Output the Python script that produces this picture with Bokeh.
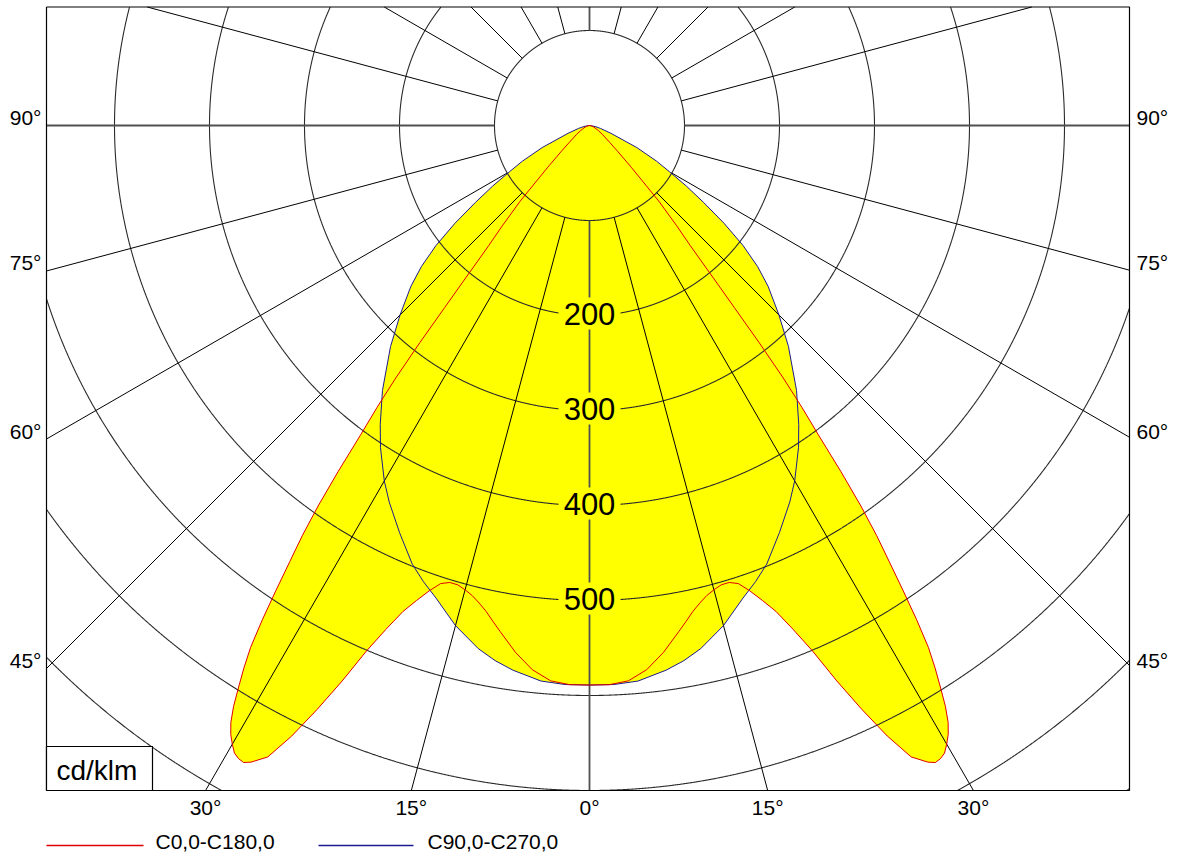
import numpy as np
from bokeh.plotting import figure
from bokeh.models import Range1d
from bokeh.embed import file_html
from bokeh.resources import INLINE
from bokeh.core.properties import value

# ---------------- data (cd/klm) ----------------
gamma_c0 = [0, 2, 4, 6, 8, 10, 11, 12, 13, 14, 15, 16, 17, 18, 19, 20, 21, 22, 23, 24,
            25, 26, 27, 28, 28.5, 29, 29.5, 30, 30.5, 31, 31.5, 32, 32.5, 33, 33.5, 34,
            34.5, 35, 35.5, 36, 36.5, 37, 37.5, 38, 38.5, 39, 39.5, 40, 41, 42.5, 45,
            47.5, 50, 55, 60, 70, 80, 90]
c0_c180 = [589, 589, 586, 576, 560, 541, 532, 523, 516, 510, 506, 503, 503, 507, 518, 532,
           548, 572, 601, 640, 678, 715, 746, 759, 763, 762, 759, 752, 744, 733, 717, 697,
           677, 655, 624, 590, 557, 527, 492, 450, 405, 372, 335, 290, 245, 212, 185, 165,
           140, 108, 62, 40, 28, 17, 11, 5, 2, 0]

gamma_c90 = [0, 2.5, 5, 8, 10, 12, 15, 18, 20, 22, 25, 28, 30, 33, 35, 38, 42, 45, 48, 50,
             52, 54, 56, 58, 60, 62, 65, 70, 75, 80, 90]
c90_c270 = [589, 589, 587, 579, 572, 563, 545, 523, 511, 498, 473, 449, 432, 404, 384, 354,
            313, 282, 253, 231, 205, 175, 145, 120, 97, 80, 55, 24, 12, 6, 0]

ring_values = [100, 200, 300, 400, 500, 600, 700, 800, 900, 1000]
ring_label_values = [200, 300, 400, 500]
ring_labels = ["200", "300", "400", "500"]
spoke_angles = list(range(0, 360, 15))
side_tick_angles = [45, 60, 75, 90]
bottom_tick_angles = [0, 15, 30]
legend_names = ["C0,0-C180,0", "C90,0-C270,0"]
unit_label = "cd/klm"

# ---------------- layout ----------------
PX = 0.95                 # px per cd/klm
W, H = 1178, 855
CX, CY = 589, 125         # canvas position of the luminaire centre
FONT = value("Liberation Sans")
RED, BLUE = "#e00000", "#1c1c90"


def dx(px):
    return (px - CX) / PX


def dy(py):
    return (CY - py) / PX


xL, xR = dx(46), dx(1129)
yB, yT = dy(790), dy(6.5)

p = figure(width=W, height=H, output_backend="svg", toolbar_location=None,
           x_range=Range1d(-CX / PX, (W - CX) / PX),
           y_range=Range1d(-(H - CY) / PX, CY / PX),
           min_border=0, x_axis_location=None, y_axis_location=None,
           outline_line_color=None, background_fill_color="white",
           border_fill_color="white")
p.grid.visible = False


def curve(gam, vals):
    g = np.radians(np.asarray(gam, dtype=float))
    r = np.asarray(vals, dtype=float)
    xr, yr = r * np.sin(g), -r * np.cos(g)
    xs = np.concatenate([-xr[::-1], xr[1:]])
    ys = np.concatenate([yr[::-1], yr[1:]])
    return xs, ys


x0, y0 = curve(gamma_c0, c0_c180)
x9, y9 = curve(gamma_c90, c90_c270)

# yellow fill (union)
p.patch(x9, y9, fill_color="#ffff00", line_color=None)
p.patch(x0, y0, fill_color="#ffff00", line_color=None)

# rings clipped to the frame
th = np.linspace(0, 2 * np.pi, 6000)
for R in ring_values:
    cx_, cy_ = R * np.sin(th), -R * np.cos(th)
    inside = (cx_ >= xL) & (cx_ <= xR) & (cy_ >= yB) & (cy_ <= yT)
    cx_ = np.where(inside, cx_, np.nan)
    cy_ = np.where(inside, cy_, np.nan)
    p.line(cx_, cy_, line_color="#2a2a2a", line_width=1.1)

# spokes from r=100 to the frame
for a in spoke_angles:
    ar = np.radians(a)
    ux, uy = np.sin(ar), -np.cos(ar)
    ts = []
    if ux > 1e-9:
        ts.append(xR / ux)
    if ux < -1e-9:
        ts.append(xL / ux)
    if uy > 1e-9:
        ts.append(yT / uy)
    if uy < -1e-9:
        ts.append(yB / uy)
    t = min(ts)
    r0 = ring_values[0]
    main = a % 90 == 0
    p.line([r0 * ux, t * ux], [r0 * uy, t * uy],
           line_color="#505050" if main else "#000000",
           line_width=1.8 if main else 1)

# curves
p.line(x9, y9, line_color=BLUE, line_width=1)
p.line(x0, y0, line_color=RED, line_width=1)

# intensity labels
lab_y = [-v + 2 / PX for v in ring_label_values]
p.rect(x=[0] * len(ring_label_values), y=lab_y,
       width=62 / PX, height=32 / PX, fill_color="#ffff00", line_color=None)
p.text(x=[0] * len(ring_label_values), y=lab_y,
       text=ring_labels, text_font=FONT, text_font_size="31px",
       text_align="center", text_baseline="middle", text_color="black")

# angle labels on the sides (sitting just above their spoke)
ly = [(xL / np.tan(np.radians(a)) if a != 90 else 0.0) + 8 / PX for a in side_tick_angles]
lbl = [f"{a}°" for a in side_tick_angles]
p.text(x=[xL - 5 / PX] * len(ly), y=ly, text=lbl, text_font=FONT, text_font_size="21px",
       text_align="right", text_baseline="middle", text_color="black")
p.text(x=[xR + 7 / PX] * len(ly), y=ly, text=lbl, text_font=FONT, text_font_size="21px",
       text_align="left", text_baseline="middle", text_color="black")

# angle labels at the bottom
bx, bt = [], []
for a in bottom_tick_angles:
    off = abs(yB) * np.tan(np.radians(a))
    if a == 0:
        bx.append(0.0)
        bt.append("0°")
    else:
        bx += [-off, off]
        bt += [f"{a}°", f"{a}°"]
p.text(x=bx, y=[dy(807)] * len(bx), text=bt, text_font=FONT, text_font_size="21px",
       text_align="center", text_baseline="middle", text_color="black")

# frame
p.line([xL, xR, xR, xL, xL], [yT, yT, yB, yB, yT], line_color="black", line_width=1.2)

# unit box
p.quad(left=[xL], right=[dx(152)], bottom=[yB], top=[dy(746)],
       fill_color="white", line_color="black", line_width=1.2)
p.text(x=[dx(56)], y=[dy(770)], text=[unit_label], text_font=FONT, text_font_size="28px",
       text_align="left", text_baseline="middle", text_color="black")

# legend
ly_leg = dy(845)
p.line([dx(46), dx(143)], [ly_leg, ly_leg], line_color=RED, line_width=1.3)
p.line([dx(318), dx(413)], [ly_leg, ly_leg], line_color=BLUE, line_width=1.3)
p.text(x=[dx(155), dx(427)], y=[dy(841)] * 2, text=legend_names, text_font=FONT,
       text_font_size="21px", text_align="left", text_baseline="middle", text_color="black")

open("out.html", "w").write(file_html(p, INLINE))
